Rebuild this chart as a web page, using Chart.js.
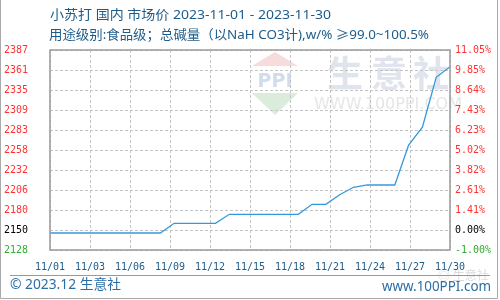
<!DOCTYPE html>
<html><head><meta charset="utf-8">
<script src="https://cdn.jsdelivr.net/npm/chart.js@4/dist/chart.umd.min.js"></script>
<style>html,body{margin:0;padding:0;background:#fff}#wrap{width:500px;height:300px;position:relative}</style>
</head><body><div id="wrap"><canvas id="c" width="500" height="300"></canvas></div>
<script>
const titleLine1 = '小苏打 国内 市场价 2023-11-01 - 2023-11-30';
const titleLine2 = '用途级别:食品级；总碱量（以NaH CO3计),w/% ≥99.0~100.5%';
const footerLeft = '© 2023.12 生意社';
const footerRight = 'www.100PPI.com';

const days = [1,2,3,4,5,6,7,8,9,10,11,12,13,14,15,16,17,18,19,20,21,22,23,24,25,26,27,28,29,30];
const prices = [2150,2150,2150,2150,2150,2150,2150,2150,2150,
  2162.6,2162.6,2162.6,2162.6,
  2174.2,2174.2,2174.2,2174.2,2174.2,2174.2,
  2187.2,2187.2,2199.5,2209.2,2212.2,2212.2,2212.2,
  2264,2287,2351.6,2365.4];

const xTickLabels = ['11/01','11/03','11/06','11/09','11/12','11/15','11/18','11/21','11/24','11/27','11/30'];
const leftTickLabels = ['2128','2150','2180','2206','2232','2258','2283','2309','2335','2361','2387'];
const rightTickLabels = ['-1.00%','0.00%','1.41%','2.61%','3.82%','5.02%','6.23%','7.43%','8.64%','9.85%','11.05%'];
const yMin = 2128, yMax = 2387;
const dayMin = 1, dayMax = 30;

function tickColor(ctx){
  if (ctx.index === 0) return '#33aa33';
  if (ctx.index === 1) return '#000000';
  return '#ff3333';
}
function evenTicks(min, max, n){
  const t = [];
  for (let i = 0; i < n; i++) t.push({value: min + i*(max-min)/(n-1)});
  return t;
}
function fitText(c, text, x, y, width){
  const w = c.measureText(text).width;
  const k = width / w;
  c.save();
  c.translate(x, y);
  c.scale(k, 1);
  c.textAlign = 'left';
  c.fillText(text, 0, 0);
  c.restore();
}

const decor = {
  id: 'decor',
  beforeDraw(chart){
    const c = chart.ctx;
    c.save();
    c.fillStyle = '#fff';
    c.fillRect(0,0,500,300);
    c.fillStyle = '#1d5c8a';
    c.font = '13px "Noto Sans", "Noto Sans CJK SC", sans-serif';
    c.textBaseline = 'middle';
    fitText(c, titleLine1, 50, 15, 281);
    fitText(c, titleLine2, 49, 35, 380);
    // watermark logo
    c.fillStyle = '#f6dcdc';
    c.beginPath(); c.moveTo(275,52); c.lineTo(298,66); c.lineTo(252,66); c.closePath(); c.fill();
    c.fillStyle = '#dcecdc';
    c.beginPath(); c.moveTo(252,93); c.lineTo(298,93); c.lineTo(275,115); c.closePath(); c.fill();
    c.fillStyle = '#d3dcec';
    c.font = 'bold 19px "DejaVu Sans", sans-serif';
    c.textAlign = 'center';
    c.fillText('PPI', 275, 82);
    c.fillStyle = '#e0e4ec';
    c.font = 'bold 36px "Noto Sans CJK SC", sans-serif';
    c.fillText('生', 345, 73);
    c.fillText('意', 389, 73);
    c.fillText('社', 431, 73);
    c.fillStyle = '#e6e6e6';
    c.font = '16px "DejaVu Sans", sans-serif';
    c.fillText('WWW.100PPI.COM', 388, 105);
    // footer
    c.fillStyle = '#2a6ea6';
    c.font = '14px "Noto Sans", "Noto Sans CJK SC", sans-serif';
    fitText(c, footerLeft, 10, 285, 111);
    fitText(c, footerRight, 382, 287, 109);
    c.strokeStyle = '#999';
    c.lineWidth = 1;
    c.beginPath(); c.moveTo(10,275.5); c.lineTo(490,275.5); c.stroke();
    c.strokeStyle = '#aaa';
    c.beginPath(); c.moveTo(0.5,0); c.lineTo(0.5,298.5); c.lineTo(497.5,298.5); c.lineTo(497.5,0); c.stroke();
    c.restore();
  },
  beforeDatasetsDraw(chart){
    // dashed grid from the library's own scales
    const c = chart.ctx, a = chart.chartArea;
    const xs = chart.scales.x, ys = chart.scales.y;
    c.save();
    c.strokeStyle = '#c4c4c4';
    c.lineWidth = 1;
    c.setLineDash([3,2]);
    xs.ticks.forEach(t => {
      const px = Math.round(xs.getPixelForValue(t.value)) + 0.5;
      c.beginPath(); c.moveTo(px, a.top); c.lineTo(px, a.bottom); c.stroke();
    });
    ys.ticks.forEach(t => {
      const py = Math.round(ys.getPixelForValue(t.value)) + 0.5;
      c.beginPath(); c.moveTo(a.left, py); c.lineTo(a.right, py); c.stroke();
    });
    c.restore();
  },
  afterDraw(chart){
    const c = chart.ctx, a = chart.chartArea;
    c.save();
    c.strokeStyle = '#9a9a9a';
    c.lineWidth = 1.5;
    c.strokeRect(a.left, a.top, a.right-a.left, a.bottom-a.top);
    c.fillStyle = 'rgba(150,150,150,0.35)';
    c.font = '12px "Noto Sans CJK SC", sans-serif';
    c.textAlign = 'left';
    c.textBaseline = 'middle';
    c.fillText('◎ 生意社', 438, 275);
    c.restore();
  }
};

new Chart(document.getElementById('c'), {
  type: 'line',
  data: {
    datasets: [{
      data: days.map((d,i)=>({x:d, y:prices[i]})),
      borderColor: '#3399dd',
      borderWidth: 1.3,
      pointRadius: 0,
      tension: 0,
      fill: false
    }]
  },
  options: {
    responsive: false,
    animation: false,
    devicePixelRatio: 1,
    layout: {padding: {top: 50, left: 0, right: 0, bottom: 0}},
    plugins: {legend: {display: false}, tooltip: {enabled: false}, title: {display: false}},
    scales: {
      x: {
        type: 'linear', min: dayMin, max: dayMax,
        afterBuildTicks(s){ s.ticks = evenTicks(dayMin, dayMax, xTickLabels.length); },
        afterFit(s){ s.height = 50; },
        ticks: {
          callback: (v,i)=>xTickLabels[i],
          color: '#1d5c8a',
          font: {family: '"DejaVu Sans Mono", monospace', size: 10},
          padding: 11,
          maxRotation: 0, autoSkip: false
        },
        grid: {drawOnChartArea: false, drawTicks: false},
        border: {display: false}
      },
      y: {
        type: 'linear', position: 'left', min: yMin, max: yMax,
        afterBuildTicks(s){ s.ticks = evenTicks(yMin, yMax, leftTickLabels.length); },
        afterFit(s){ s.width = 50; },
        ticks: {
          callback: (v,i)=>leftTickLabels[i],
          color: tickColor,
          font: {family: '"DejaVu Sans Mono", monospace', size: 10},
          padding: 22, autoSkip: false
        },
        grid: {drawOnChartArea: false, drawTicks: false},
        border: {display: false}
      },
      y2: {
        type: 'linear', position: 'right', min: yMin, max: yMax,
        afterBuildTicks(s){ s.ticks = evenTicks(yMin, yMax, rightTickLabels.length); },
        afterFit(s){ s.width = 50; },
        ticks: {
          callback: (v,i)=>rightTickLabels[i],
          color: tickColor,
          font: {family: '"DejaVu Sans Mono", monospace', size: 10},
          padding: 5, autoSkip: false
        },
        grid: {drawOnChartArea: false, drawTicks: false},
        border: {display: false}
      }
    }
  },
  plugins: [decor]
});
</script>
</body></html>
